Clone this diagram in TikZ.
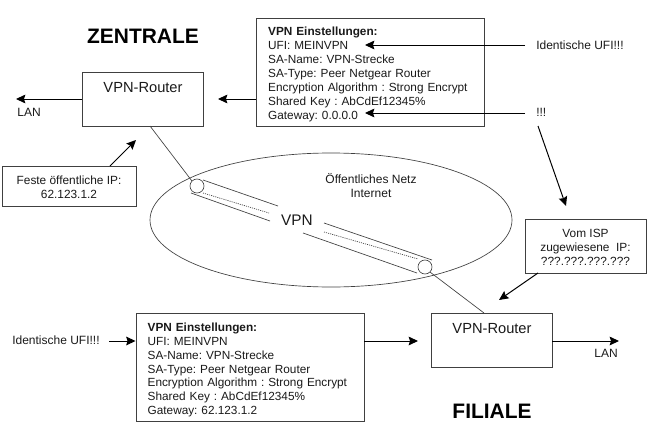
\documentclass[tikz,border=0pt]{standalone}
\usepackage{fontspec}
\setmainfont{Liberation Sans}
\frenchspacing
\usetikzlibrary{arrows.meta,shapes.geometric}
\definecolor{ln}{HTML}{404040}
\definecolor{tx}{HTML}{1A1A1A}
\newcommand{\topstrut}[1]{\rule{0pt}{#1}}
\tikzset{
  boxshape/.style={draw=ln,line width=0.7pt,fill=white,inner sep=0pt,text=tx},
  router/.style={boxshape,minimum width=90.75pt,minimum height=40.5pt},
  routername/.style={font=\fontsize{11}{12}\selectfont,text=tx,inner sep=0pt},
  settings/.style={boxshape,minimum width=171pt,minimum height=81pt,text width=153.5pt,align=left,font=\fontsize{8.85}{10.4}\selectfont},
  infobox/.style={boxshape,align=center,font=\fontsize{8.9}{10.6}\selectfont},
  plain/.style={inner sep=0pt,text=tx,font=\fontsize{9}{10.3}\selectfont,align=center},
  heading/.style={inner sep=0pt,text=black,font=\fontsize{15.7}{18}\bfseries\selectfont},
  arrowline/.style={draw=black,line width=0.75pt,-{Stealth[length=7pt,width=6.5pt,inset=1pt]}},
  thinline/.style={draw=ln,line width=0.5pt},
  dotline/.style={draw=ln,line width=0.5pt,dash pattern=on 0.8pt off 0.8pt},
}
\begin{document}
\begin{tikzpicture}[x=0.75pt,y=-0.75pt]
\useasboundingbox (0,0) rectangle (650,432);
% internet
\node[draw=ln,line width=0.5pt,ellipse,minimum width=271.5pt,minimum height=100.5pt,inner sep=0pt] (net) at (331,220) {};
\node[plain] (nettext) at (371,185.5) {Öffentliches Netz\\Internet};
% boxes
\node[router] (rz) at (142.5,99) {};
\node[routername] (rzt) at (143,87.5) {VPN-Router};
\node[router] (rf) at (491.5,340) {};
\node[routername] (rft) at (492,329) {VPN-Router};
\node[settings] (sz) at (370.5,72) {\topstrut{10pt}\textbf{VPN Einstellungen:}\\UFI: MEINVPN\\SA-Name: VPN-Strecke\\SA-Type: Peer Netgear Router\\Encryption Algorithm : Strong Encrypt\\Shared Key : AbCdEf12345\%\\Gateway: 0.0.0.0};
\node[settings] (sf) at (250,367) {\topstrut{11pt}\textbf{VPN Einstellungen:}\\UFI: MEINVPN\\SA-Name: VPN-Strecke\\SA-Type: Peer Netgear Router\\Encryption Algorithm : Strong Encrypt\\Shared Key : AbCdEf12345\%\\Gateway: 62.123.1.2};
\node[infobox,minimum width=100.5pt,minimum height=30pt] (fest) at (69,186) {\topstrut{8.5pt}Feste öffentliche IP:\\62.123.1.2};
\node[infobox,minimum width=90.75pt,minimum height=40.5pt] (isp) at (585.5,246) {\topstrut{8.5pt}Vom ISP\\zugewiesene\ \ IP:\\???.???.???.???};
% headings and labels
\node[heading] (hz) at (143,36) {ZENTRALE};
\node[heading] (hf) at (492,411) {FILIALE};
\node[plain] (lanz) at (29,112) {LAN};
\node[plain] (lanf) at (606,353) {LAN};
\node[plain,anchor=west] (ufir) at (536,45) {Identische UFI!!!};
\node[plain,anchor=west] (ausr) at (536,112) {!!!};
\node[plain,anchor=west] (ufil) at (12,340) {Identische UFI!!!};
\node[inner sep=0pt,text=tx,font=\fontsize{11.5}{14}\selectfont] (vpn) at (297,220) {VPN};
% free ends
\coordinate (a1) at (16,99);
\coordinate (a2) at (218,99);
\coordinate (a3) at (136,140);
\coordinate (a3s) at (110,166);
\coordinate (a4s) at (525,45);
\coordinate (a4) at (365,45);
\coordinate (a5s) at (525,113);
\coordinate (a5) at (365,113);
\coordinate (a6s) at (538,126);
\coordinate (a6) at (566,206);
\coordinate (a7s) at (538,273);
\coordinate (a7) at (499,300);
\coordinate (a8s) at (109,341);
\coordinate (a9) at (418,341);
\coordinate (a10) at (619,341);
\coordinate (rzb) at (150,126);
\coordinate (rft0) at (484,313);
% tunnel
\coordinate (c1) at (197,186);
\coordinate (c2) at (425,267);
\node[draw=ln,line width=0.5pt,circle,minimum size=10.5pt,inner sep=0pt] (end1) at (c1) {};
\node[draw=ln,line width=0.5pt,circle,minimum size=10.5pt,inner sep=0pt] (end2) at (c2) {};
\coordinate (u1) at (203,180); \coordinate (u2) at (278,206);
\coordinate (l1) at (191,193); \coordinate (l2) at (270,221);
\coordinate (d1) at (203,193); \coordinate (d2) at (269,213);
\coordinate (u3) at (324,223); \coordinate (u4) at (432,260);
\coordinate (l3) at (303,233); \coordinate (l4) at (417,273);
\coordinate (d3) at (324,232); \coordinate (d4) at (418,259);
\draw[thinline] (u1) -- (u2);
\draw[thinline] (l1) -- (l2);
\draw[dotline] (d1) -- (d2);
\draw[thinline] (u3) -- (u4);
\draw[thinline] (l3) -- (l4);
\draw[dotline] (d3) -- (d4);
\draw[thinline] (rzb) -- (end1.north west);
\draw[thinline] (end2.south east) -- (rft0);
% arrows
\draw[arrowline] (rz.west) -- (a1);
\draw[arrowline] (sz.west |- a2) -- (a2);
\draw[arrowline] (a3s) -- (a3);
\draw[arrowline] (a4s) -- (a4);
\draw[arrowline] (a5s) -- (a5);
\draw[arrowline] (a6s) -- (a6);
\draw[arrowline] (a7s) -- (a7);
\draw[arrowline] (a8s) -- (sf.west |- a8s);
\draw[arrowline] (sf.east |- a9) -- (a9);
\draw[arrowline] (rf.east |- a10) -- (a10);
\end{tikzpicture}
\end{document}
